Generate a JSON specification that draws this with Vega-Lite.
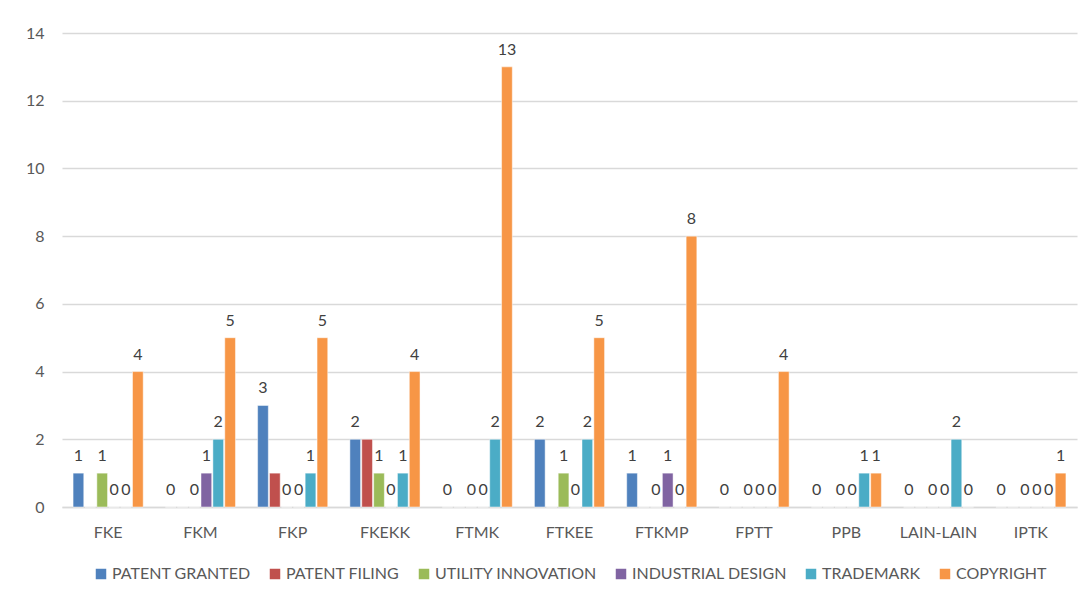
{
  "$schema": "https://vega.github.io/schema/vega-lite/v6.json",
  "width": 1015,
  "height": 474,
  "autosize": {"type": "none"},
  "padding": {"left": 62, "top": 33, "right": 7, "bottom": 91},
  "background": "white",
  "config": {
    "font": "Lato",
    "view": {"stroke": null},
    "axis": {"labelFont": "Lato", "labelColor": "#595959", "labelFontSize": 16},
    "legend": {"layout": {"bottom": {"anchor": "middle"}}}
  },
  "data": {
    "values": [
      {"g": "FKE", "s": "PATENT GRANTED", "v": 1},
      {"g": "FKE", "s": "PATENT FILING", "v": 0},
      {"g": "FKE", "s": "UTILITY INNOVATION", "v": 1},
      {"g": "FKE", "s": "INDUSTRIAL DESIGN", "v": 0},
      {"g": "FKE", "s": "TRADEMARK", "v": 0},
      {"g": "FKE", "s": "COPYRIGHT", "v": 4},
      {"g": "FKM", "s": "PATENT GRANTED", "v": 0},
      {"g": "FKM", "s": "PATENT FILING", "v": 0},
      {"g": "FKM", "s": "UTILITY INNOVATION", "v": 0},
      {"g": "FKM", "s": "INDUSTRIAL DESIGN", "v": 1},
      {"g": "FKM", "s": "TRADEMARK", "v": 2},
      {"g": "FKM", "s": "COPYRIGHT", "v": 5},
      {"g": "FKP", "s": "PATENT GRANTED", "v": 3},
      {"g": "FKP", "s": "PATENT FILING", "v": 1},
      {"g": "FKP", "s": "UTILITY INNOVATION", "v": 0},
      {"g": "FKP", "s": "INDUSTRIAL DESIGN", "v": 0},
      {"g": "FKP", "s": "TRADEMARK", "v": 1},
      {"g": "FKP", "s": "COPYRIGHT", "v": 5},
      {"g": "FKEKK", "s": "PATENT GRANTED", "v": 2},
      {"g": "FKEKK", "s": "PATENT FILING", "v": 2},
      {"g": "FKEKK", "s": "UTILITY INNOVATION", "v": 1},
      {"g": "FKEKK", "s": "INDUSTRIAL DESIGN", "v": 0},
      {"g": "FKEKK", "s": "TRADEMARK", "v": 1},
      {"g": "FKEKK", "s": "COPYRIGHT", "v": 4},
      {"g": "FTMK", "s": "PATENT GRANTED", "v": 0},
      {"g": "FTMK", "s": "PATENT FILING", "v": 0},
      {"g": "FTMK", "s": "UTILITY INNOVATION", "v": 0},
      {"g": "FTMK", "s": "INDUSTRIAL DESIGN", "v": 0},
      {"g": "FTMK", "s": "TRADEMARK", "v": 2},
      {"g": "FTMK", "s": "COPYRIGHT", "v": 13},
      {"g": "FTKEE", "s": "PATENT GRANTED", "v": 2},
      {"g": "FTKEE", "s": "PATENT FILING", "v": 0},
      {"g": "FTKEE", "s": "UTILITY INNOVATION", "v": 1},
      {"g": "FTKEE", "s": "INDUSTRIAL DESIGN", "v": 0},
      {"g": "FTKEE", "s": "TRADEMARK", "v": 2},
      {"g": "FTKEE", "s": "COPYRIGHT", "v": 5},
      {"g": "FTKMP", "s": "PATENT GRANTED", "v": 1},
      {"g": "FTKMP", "s": "PATENT FILING", "v": 0},
      {"g": "FTKMP", "s": "UTILITY INNOVATION", "v": 0},
      {"g": "FTKMP", "s": "INDUSTRIAL DESIGN", "v": 1},
      {"g": "FTKMP", "s": "TRADEMARK", "v": 0},
      {"g": "FTKMP", "s": "COPYRIGHT", "v": 8},
      {"g": "FPTT", "s": "PATENT GRANTED", "v": 0},
      {"g": "FPTT", "s": "PATENT FILING", "v": 0},
      {"g": "FPTT", "s": "UTILITY INNOVATION", "v": 0},
      {"g": "FPTT", "s": "INDUSTRIAL DESIGN", "v": 0},
      {"g": "FPTT", "s": "TRADEMARK", "v": 0},
      {"g": "FPTT", "s": "COPYRIGHT", "v": 4},
      {"g": "PPB", "s": "PATENT GRANTED", "v": 0},
      {"g": "PPB", "s": "PATENT FILING", "v": 0},
      {"g": "PPB", "s": "UTILITY INNOVATION", "v": 0},
      {"g": "PPB", "s": "INDUSTRIAL DESIGN", "v": 0},
      {"g": "PPB", "s": "TRADEMARK", "v": 1},
      {"g": "PPB", "s": "COPYRIGHT", "v": 1},
      {"g": "LAIN-LAIN", "s": "PATENT GRANTED", "v": 0},
      {"g": "LAIN-LAIN", "s": "PATENT FILING", "v": 0},
      {"g": "LAIN-LAIN", "s": "UTILITY INNOVATION", "v": 0},
      {"g": "LAIN-LAIN", "s": "INDUSTRIAL DESIGN", "v": 0},
      {"g": "LAIN-LAIN", "s": "TRADEMARK", "v": 2},
      {"g": "LAIN-LAIN", "s": "COPYRIGHT", "v": 0},
      {"g": "IPTK", "s": "PATENT GRANTED", "v": 0},
      {"g": "IPTK", "s": "PATENT FILING", "v": 0},
      {"g": "IPTK", "s": "UTILITY INNOVATION", "v": 0},
      {"g": "IPTK", "s": "INDUSTRIAL DESIGN", "v": 0},
      {"g": "IPTK", "s": "TRADEMARK", "v": 0},
      {"g": "IPTK", "s": "COPYRIGHT", "v": 1}
    ]
  },
  "encoding": {
    "x": {
      "field": "g", "type": "nominal", "sort": null, "title": null,
      "scale": {"paddingInner": 0.24, "paddingOuter": 0.12},
      "axis": {"labelAngle": 0, "ticks": false, "domainColor": "#d9d9d9", "domainWidth": 1.5, "labelPadding": 17, "grid": false}
    },
    "xOffset": {
      "field": "s", "type": "nominal",
      "sort": ["PATENT GRANTED", "PATENT FILING", "UTILITY INNOVATION", "INDUSTRIAL DESIGN", "TRADEMARK", "COPYRIGHT"],
      "scale": {"paddingInner": 0.1, "paddingOuter": 0}
    },
    "y": {
      "field": "v", "type": "quantitative", "title": null,
      "scale": {"domain": [0, 14], "nice": false},
      "axis": {"values": [0, 2, 4, 6, 8, 10, 12, 14], "domain": false, "ticks": false, "gridColor": "#d9d9d9", "gridWidth": 1.5, "labelPadding": 18}
    }
  },
  "layer": [
    {
      "mark": {"type": "bar", "stroke": "white", "strokeWidth": 0.6, "strokeOpacity": 0.8},
      "encoding": {
        "color": {
          "field": "s", "type": "nominal", "title": null,
          "scale": {
            "domain": ["PATENT GRANTED", "PATENT FILING", "UTILITY INNOVATION", "INDUSTRIAL DESIGN", "TRADEMARK", "COPYRIGHT"],
            "range": ["#4F81BD", "#C0504D", "#9BBB59", "#8064A2", "#4BACC6", "#F79646"]
          },
          "legend": {
            "orient": "bottom", "direction": "horizontal", "symbolType": "square", "symbolSize": 110,
            "symbolStrokeWidth": 0, "labelFontSize": 16, "labelColor": "#595959", "labelFont": "Lato",
            "labelLimit": 400, "columnPadding": 16, "symbolOffset": 0, "labelOffset": 3, "offset": 26
          }
        }
      }
    },
    {
      "transform": [{"filter": "datum.s !== 'PATENT FILING'"}],
      "mark": {"type": "text", "baseline": "bottom", "dy": -9, "fontSize": 16, "color": "#404040"},
      "encoding": {"text": {"field": "v", "type": "quantitative"}}
    }
  ]
}
